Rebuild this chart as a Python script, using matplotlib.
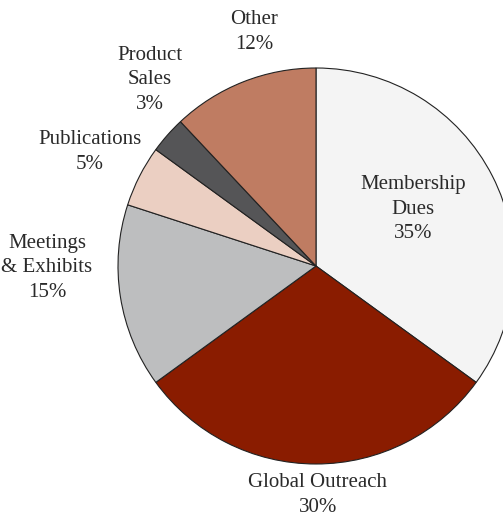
import matplotlib.pyplot as plt

plt.rcParams['font.family'] = ['Liberation Serif', 'DejaVu Serif']

# revenue shares (percent), clockwise from 12 o'clock
categories = ["Membership\nDues", "Global Outreach", "Meetings\n& Exhibits",
              "Publications", "Product\nSales", "Other"]
shares = [35, 30, 15, 5, 3, 12]
colors = ["#f4f4f4", "#8a1c00", "#bdbebf", "#ebcfc2", "#555557", "#bf7c62"]

W, H = 503, 519
cx, cy, r = 316, 266, 198  # pie center / radius in pixels

fig = plt.figure(figsize=(W / 100, H / 100), dpi=100)
ax = fig.add_axes([0, 0, 1, 1])

ax.pie(shares, colors=colors, startangle=90, counterclock=False, radius=1,
       wedgeprops=dict(edgecolor="#222222", linewidth=0.8))

ax.set_xlim(-cx / r, (W - cx) / r)
ax.set_ylim(-(H - cy) / r, cy / r)
ax.set_aspect("auto")
ax.axis("off")

# label block centers in pixels
label_pos = [(413, 209), (318, 495), (47, 268), (90, 152), (150, 80), (254, 32)]
for name, val, (px, py) in zip(categories, shares, label_pos):
    ax.text((px - cx) / r, (cy - py) / r, f"{name}\n{val}%", ha="center",
            va="center", fontsize=15, color="#2a2a2a", linespacing=1.42)

fig.savefig("out.png", dpi=100)
